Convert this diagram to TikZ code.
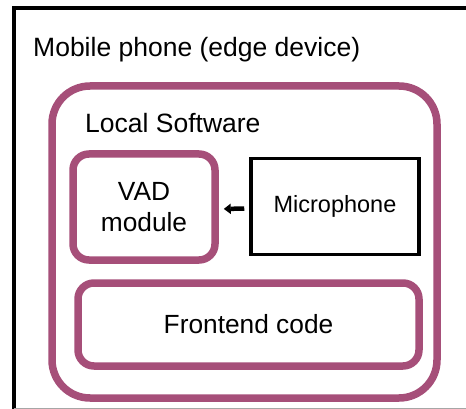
\documentclass[tikz,border=0pt]{standalone}
\usepackage{fontspec}
\setmainfont{Liberation Sans}
\usetikzlibrary{arrows.meta}
\definecolor{plum}{RGB}{166,79,121}
\tikzset{
  pbox/.style={draw=plum, line width=7.5pt, rounded corners=16pt, inner sep=0pt, align=center},
  lbl/.style={anchor=base west, inner sep=0pt, font=\fontsize{26.5}{31}\selectfont},
  txt/.style={font=\fontsize{26.3}{31}\selectfont},
}
\begin{document}
\begin{tikzpicture}[x=1pt,y=-1pt]
\useasboundingbox (0,0) rectangle (466,409);
% device frame
\draw[line width=3.5pt] (466,8) -- (14,8) -- (14,409);
\draw[black!35, line width=1.2pt] (14,408.4) -- (466,408.4);
\node[lbl] (dev) at (33,57) {Mobile phone (edge device)};
% local software
\node[pbox, rounded corners=38pt, minimum width=385pt, minimum height=312pt] (local) at (244.5,242) {};
\node[lbl] (loclbl) at (85,133) {Local Software};
% VAD
\node[pbox, txt, minimum width=142pt, minimum height=106pt] (vad) at (144,207) {VAD\\module};
% Microphone
\node[draw, line width=3.5pt, minimum width=168pt, minimum height=96pt, inner sep=0pt,
      font=\fontsize{23.5}{28}\selectfont] (mic) at (335,206.5) {Microphone};
% Frontend
\node[pbox, txt, minimum width=341pt, minimum height=83pt] (front) at (248.5,324.5) {Frontend code};
% arrow
\draw[line width=4.5pt, -{Triangle[length=7pt,width=10pt]}, shorten <=5pt, shorten >=5pt]
  ([yshift=-2pt]mic.west) -- ([yshift=-2pt]vad.east);
\end{tikzpicture}
\end{document}
